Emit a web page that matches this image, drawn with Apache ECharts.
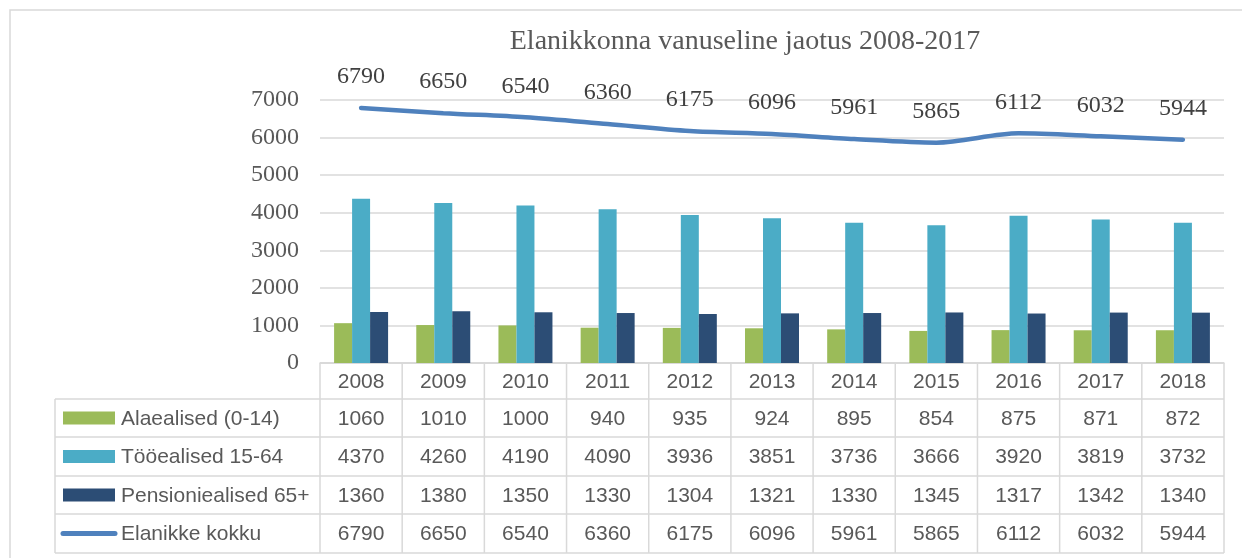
<!DOCTYPE html>
<html>
<head>
<meta charset="utf-8">
<script src="https://cdn.jsdelivr.net/npm/echarts@6/dist/echarts.min.js"></script>
<style>
  html, body { margin: 0; padding: 0; background: #fff; }
  #chart { width: 1242px; height: 558px; }
</style>
</head>
<body>
<div id="chart"></div>
<script>
// andmed
var years = ['2008', '2009', '2010', '2011', '2012', '2013', '2014', '2015', '2016', '2017', '2018'];
var alaealised = [1060, 1010, 1000, 940, 935, 924, 895, 854, 875, 871, 872];
var tooealised = [4370, 4260, 4190, 4090, 3936, 3851, 3736, 3666, 3920, 3819, 3732];
var pensioniealised = [1360, 1380, 1350, 1330, 1304, 1321, 1330, 1345, 1317, 1342, 1340];
var kokku = [6790, 6650, 6540, 6360, 6175, 6096, 5961, 5865, 6112, 6032, 5944];
var seriesNames = ['Alaealised (0-14)', 'Tööealised 15-64', 'Pensioniealised 65+', 'Elanikke kokku'];
var colors = ['#9bbb59', '#4bacc6', '#2c4d75', '#4f81bd'];

var chart = echarts.init(document.getElementById('chart'));

var serif = '"Liberation Serif", "Times New Roman", serif';
var sans = '"Liberation Sans", Arial, sans-serif';
var gray = '#595959';
var lineGray = '#d9d9d9';

function bar(name, data, color) {
    return {
        name: name,
        type: 'bar',
        data: data,
        barWidth: 18,
        barGap: '0%',
        itemStyle: { color: color }
    };
}

chart.setOption({
    animation: false,
    title: {
        text: 'Elanikkonna vanuseline jaotus 2008-2017',
        left: 740,
        textAlign: 'center',
        top: 23,
        textStyle: { fontFamily: serif, fontSize: 28, fontWeight: 'normal', color: gray }
    },
    grid: { left: 320, right: 18, top: 100, bottom: 195 },
    xAxis: {
        type: 'category',
        data: years,
        axisLine: { show: true, lineStyle: { color: lineGray, width: 1.5 } },
        axisTick: { show: false },
        axisLabel: { show: false }
    },
    yAxis: {
        type: 'value',
        min: 0,
        max: 7000,
        interval: 1000,
        axisLine: { show: false },
        axisTick: { show: false },
        axisLabel: {
            fontFamily: serif, fontSize: 24, color: gray, margin: 21,
            formatter: function (v) { return String(v); }
        },
        splitLine: { lineStyle: { color: lineGray, width: 1.5 } }
    },
    series: [
        bar(seriesNames[0], alaealised, colors[0]),
        bar(seriesNames[1], tooealised, colors[1]),
        bar(seriesNames[2], pensioniealised, colors[2]),
        {
            name: seriesNames[3],
            type: 'line',
            data: kokku,
            smooth: 0.3,
            symbol: 'circle',
            symbolSize: 0.1,
            showSymbol: true,
            itemStyle: { color: colors[3], opacity: 0 },
            lineStyle: { color: colors[3], width: 4.5, cap: 'round' },
            label: {
                show: true,
                position: 'top',
                distance: 19,
                fontFamily: serif,
                fontSize: 24,
                color: '#404040',
                opacity: 1
            }
        }
    ]
});

// andmetabel graafiku all
var rowsY = [363, 399, 437, 476, 514, 553];
var tableLeft = 55;
var c0 = chart.convertToPixel({ xAxisIndex: 0 }, years[0]);
var c1 = chart.convertToPixel({ xAxisIndex: 0 }, years[1]);
var catW = c1 - c0;
var colLeft = c0 - catW / 2;
var colRight = colLeft + catW * years.length;
var rowsData = [alaealised, tooealised, pensioniealised, kokku];

var g = [];
function hline(x1, x2, y) {
    g.push({ type: 'line', shape: { x1: x1, y1: y, x2: x2, y2: y }, style: { stroke: lineGray, lineWidth: 1.5 }, silent: true });
}
function vline(x, y1, y2) {
    g.push({ type: 'line', shape: { x1: x, y1: y1, x2: x, y2: y2 }, style: { stroke: lineGray, lineWidth: 1.5 }, silent: true });
}
function txt(s, x, y, align) {
    g.push({
        type: 'text', silent: true,
        style: { text: s, x: x, y: y, align: align || 'center', verticalAlign: 'middle', fontFamily: sans, fontSize: 21, fill: gray }
    });
}

hline(colLeft, colRight, rowsY[0]);
for (var r = 1; r < rowsY.length; r++) hline(tableLeft, colRight, rowsY[r]);
vline(tableLeft, rowsY[1], rowsY[5]);
for (var c = 0; c <= years.length; c++) vline(colLeft + c * catW, rowsY[0], rowsY[5]);

for (var i = 0; i < years.length; i++) {
    var cx = chart.convertToPixel({ xAxisIndex: 0 }, years[i]);
    txt(years[i], cx, (rowsY[0] + rowsY[1]) / 2 + 1);
    for (var k = 0; k < rowsData.length; k++) {
        txt(String(rowsData[k][i]), cx, (rowsY[k + 1] + rowsY[k + 2]) / 2 + 1);
    }
}

for (var k = 0; k < seriesNames.length; k++) {
    var cy = (rowsY[k + 1] + rowsY[k + 2]) / 2;
    if (k < 3) {
        g.push({ type: 'rect', silent: true, shape: { x: 63, y: cy - 6.5, width: 52, height: 13 }, style: { fill: colors[k] } });
    } else {
        g.push({ type: 'line', silent: true, shape: { x1: 63, y1: cy, x2: 115, y2: cy }, style: { stroke: colors[3], lineWidth: 5, lineCap: 'round' } });
    }
    txt(seriesNames[k], 121, cy + 1, 'left');
}

// välimine raam
g.push({ type: 'rect', silent: true, shape: { x: 10, y: 10, width: 1250, height: 570 }, style: { fill: 'none', stroke: lineGray, lineWidth: 1.5 } });

chart.setOption({ graphic: g });
</script>
</body>
</html>
